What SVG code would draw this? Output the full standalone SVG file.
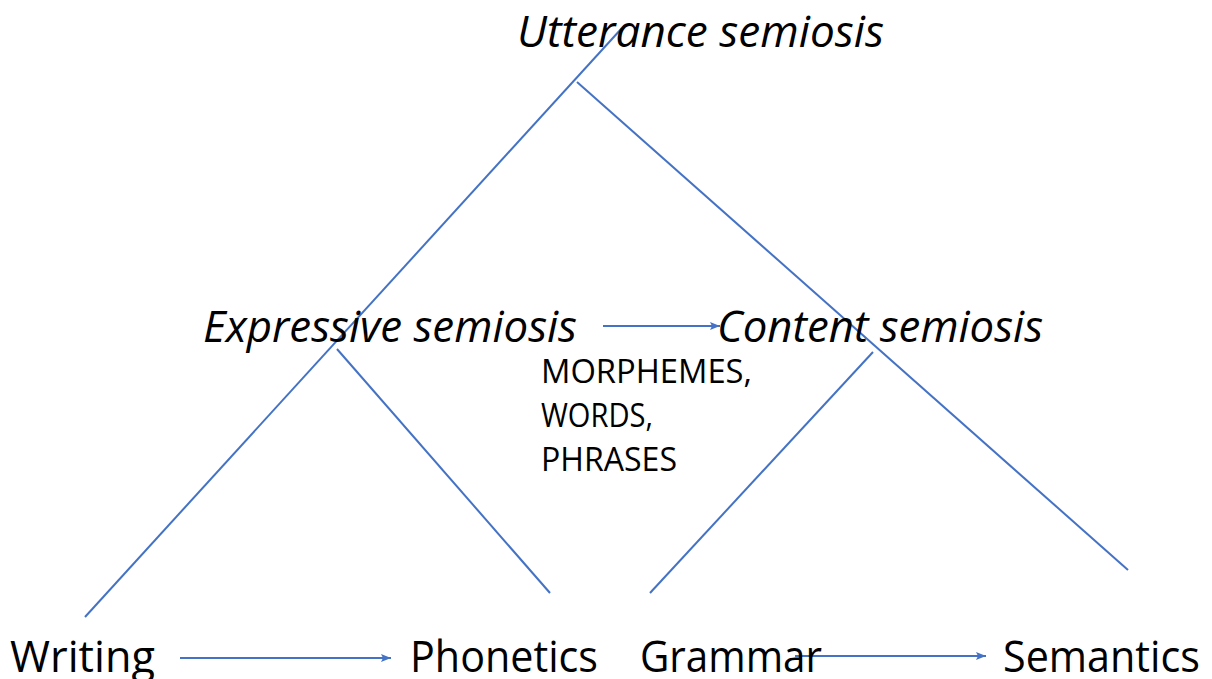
<svg xmlns="http://www.w3.org/2000/svg" width="1212" height="679" viewBox="0 0 1212 679">
  <style>
    .lbl { font-family: "Open Sans", "Noto Sans", "Liberation Sans", sans-serif; fill: #000; }
    .big { font-size: 44px; }
    .it { font-style: italic; }
    .small { font-size: 32px; }
    .ln { stroke: #4472C4; stroke-width: 2; fill: none; }
  </style>
  <defs>
    <marker id="arrow" viewBox="0 0 10 8" refX="10" refY="4" markerWidth="10" markerHeight="8" orient="auto" markerUnits="userSpaceOnUse">
      <path d="M0,0 L10,4 L0,8 L2,4 Z" fill="#4472C4"/>
    </marker>
  </defs>

  <rect width="1212" height="679" fill="#ffffff"/>

  <g id="connectors">
    <!-- tree branches -->
    <line class="ln" x1="622" y1="28" x2="85" y2="617"/>
    <line class="ln" x1="577" y1="82" x2="1128" y2="570"/>
    <line class="ln" x1="337" y1="349" x2="550" y2="593"/>
    <line class="ln" x1="873" y1="352" x2="650" y2="593"/>
    <!-- arrows -->
    <line class="ln" x1="603" y1="326" x2="720" y2="326" marker-end="url(#arrow)"/>
    <line class="ln" x1="180" y1="658" x2="391" y2="658" marker-end="url(#arrow)"/>
    <line class="ln" x1="795" y1="656" x2="986" y2="656" marker-end="url(#arrow)"/>
  </g>

  <g id="utterance">
    <text class="lbl big it" x="517" y="47" textLength="367" lengthAdjust="spacingAndGlyphs">Utterance semiosis</text>
  </g>
  <g id="expressive">
    <text class="lbl big it" x="203" y="342" textLength="374" lengthAdjust="spacingAndGlyphs">Expressive semiosis</text>
  </g>
  <g id="content">
    <text class="lbl big it" x="717" y="342" textLength="326" lengthAdjust="spacingAndGlyphs">Content semiosis</text>
  </g>
  <g id="units">
    <text class="lbl small" x="541" y="383" textLength="211" lengthAdjust="spacingAndGlyphs">MORPHEMES,</text>
    <text class="lbl small" x="541" y="427" textLength="112" lengthAdjust="spacingAndGlyphs">WORDS,</text>
    <text class="lbl small" x="541" y="471" textLength="136" lengthAdjust="spacingAndGlyphs">PHRASES</text>
  </g>
  <g id="writing">
    <text class="lbl big" x="10" y="672" textLength="145" lengthAdjust="spacingAndGlyphs">Writing</text>
  </g>
  <g id="phonetics">
    <text class="lbl big" x="410" y="672" textLength="188" lengthAdjust="spacingAndGlyphs">Phonetics</text>
  </g>
  <g id="grammar">
    <text class="lbl big" x="640" y="672" textLength="182" lengthAdjust="spacingAndGlyphs">Grammar</text>
  </g>
  <g id="semantics">
    <text class="lbl big" x="1003" y="672" textLength="197" lengthAdjust="spacingAndGlyphs">Semantics</text>
  </g>
</svg>
